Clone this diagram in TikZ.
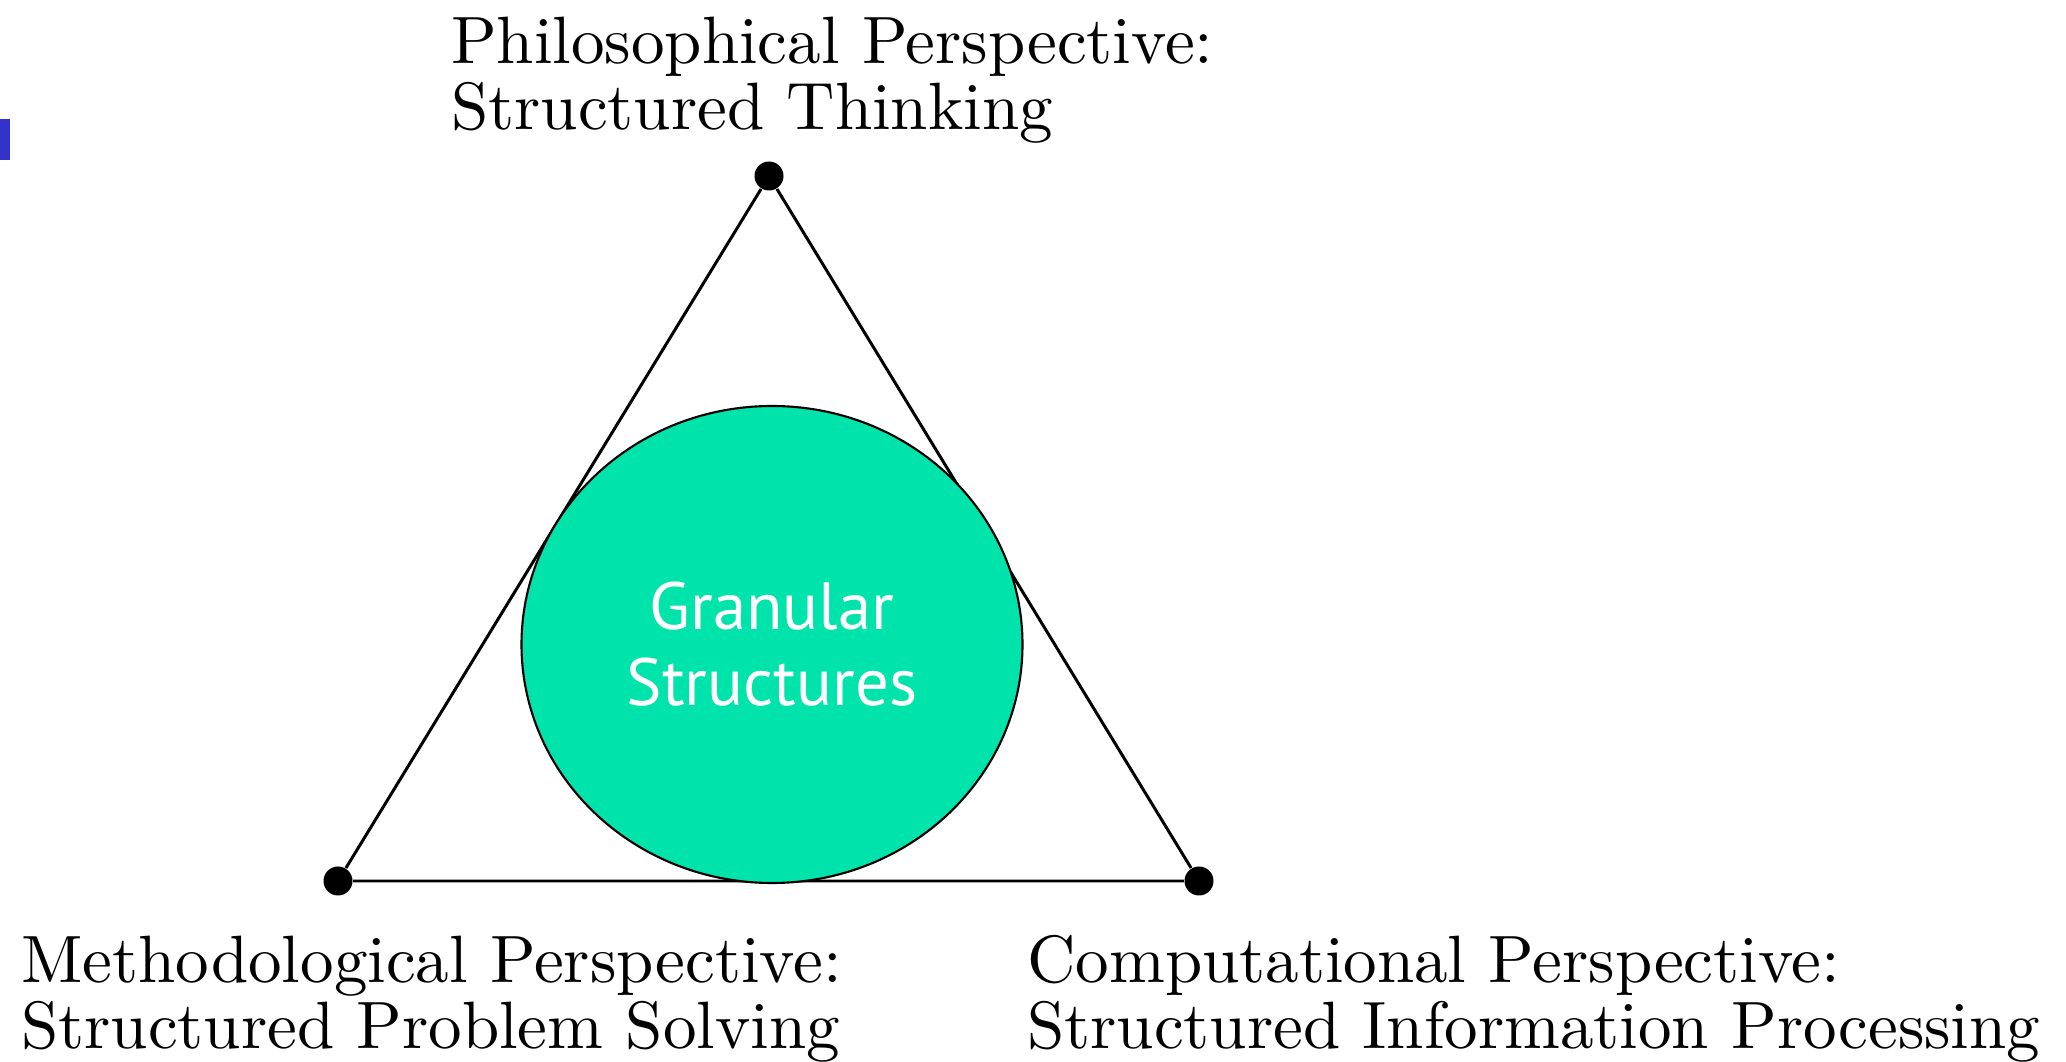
\documentclass[tikz,border=0pt]{standalone}
\usepackage{fontspec}
\newfontfamily\granfont{PT Sans}
\usetikzlibrary{shapes.geometric}
\definecolor{granulegreen}{RGB}{0,227,170}
\definecolor{slideblue}{RGB}{51,51,204}
\begin{document}
\begin{tikzpicture}[
  vertex/.style={circle, fill=black, inner sep=0pt, minimum size=0.29cm},
  persp/.style={align=left, inner sep=0pt, scale=1.906, font=\fontsize{10}{9.9}\selectfont},
  granule/.style={ellipse, draw=black, line width=0.6pt, fill=granulegreen,
    minimum width=5.01cm, minimum height=4.77cm, inner sep=0pt, align=center,
    text=white, font=\granfont\fontsize{19}{21.6}\selectfont}]
\useasboundingbox (0,0) rectangle (20.66,10.62);
\fill[slideblue] (0,9.02) rectangle (0.10,9.43);
\node[vertex] (phil) at (7.69,8.86) {};
\node[vertex] (meth) at (3.38,1.81) {};
\node[vertex] (comp) at (11.99,1.81) {};
\draw[line width=0.85pt] (phil) -- (meth) -- (comp) -- (phil);
\node[granule] (gran) at (7.72,4.175) {Granular\\Structures};
\node[persp, anchor=base west] (philtxt) at (4.50,9.32) {Philosophical Perspective:\\Structured Thinking};
\node[persp, anchor=base west] (methtxt) at (0.20,0.13) {Methodological Perspective:\\Structured Problem Solving};
\node[persp, anchor=base west] (comptxt) at (10.26,0.13) {Computational Perspective:\\Structured Information Processing};
\end{tikzpicture}
\end{document}
